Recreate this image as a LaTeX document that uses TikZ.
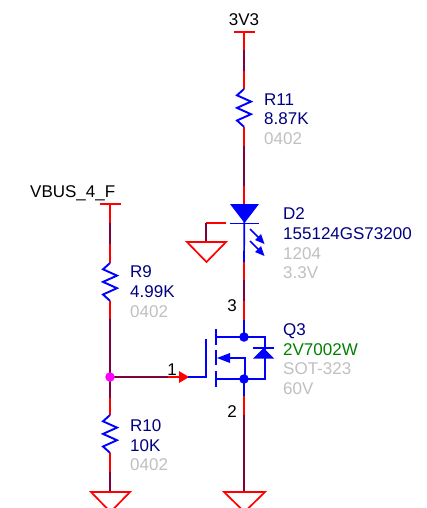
\documentclass[tikz,border=0pt]{standalone}
\usepackage{fontspec}
\setmainfont{Liberation Sans}
\definecolor{wirered}{RGB}{255,0,0}
\definecolor{wirepur}{RGB}{128,0,64}
\definecolor{symblue}{RGB}{0,0,255}
\definecolor{navytxt}{RGB}{0,0,128}
\definecolor{graytxt}{RGB}{192,192,192}
\definecolor{greentxt}{RGB}{0,128,0}
\definecolor{jmag}{RGB}{255,0,255}
\tikzset{
  redw/.style={draw=wirered,line width=1.7pt},
  purw/.style={draw=wirepur,line width=1.7pt},
  bluew/.style={draw=symblue,line width=1.7pt,line join=miter},
  lbl/.style={anchor=west,inner sep=0pt,font=\fontsize{17}{18}\selectfont},
  ctr/.style={inner sep=0pt,text=black,font=\fontsize{17}{18}\selectfont},
  dot/.style={circle,inner sep=0pt,minimum size=9.5pt},
  tickm/.style={fill=wirepur,inner sep=0pt,minimum width=2.8pt,minimum height=1.1pt},
}
\newcommand{\zig}[3]{% x, ytop, half width
  \draw[draw=symblue,line width=1.9pt,line join=miter] (#1,#2)
    -- ++(-#3,6.3) -- ++(2*#3,6.3) -- ++(-2*#3,6.3) -- ++(2*#3,6.3) -- ++(-2*#3,6.3) -- ++(#3,6.3);}
\begin{document}
\begin{tikzpicture}[x=1pt,y=-1pt]
\useasboundingbox[fill=white] (0,0) rectangle (426,508);
\clip (0,0) rectangle (426,508);
% named points
\coordinate (a0) at (110,204);
\coordinate (a1) at (110,224);
\coordinate (a2) at (110,243);
\coordinate (a3) at (110,263);
\coordinate (a4) at (110,301);
\coordinate (a5) at (110,320);
\coordinate (a6) at (110,397);
\coordinate (a7) at (110,415);
\coordinate (a8) at (110,453);
\coordinate (a9) at (110,473);
\coordinate (a10) at (110,492);
\coordinate (b0) at (244,32);
\coordinate (b1) at (244,51);
\coordinate (b2) at (244,70);
\coordinate (b3) at (244,89);
\coordinate (b4) at (244,127);
\coordinate (b5) at (244,147);
\coordinate (b5a) at (244,185);
\coordinate (b6) at (244,204);
\coordinate (b7) at (244,262);
\coordinate (b7a) at (244,281);
\coordinate (b7b) at (244,300);
\coordinate (b8) at (244,320);
\coordinate (b9) at (244,396);
\coordinate (b10) at (244,416);
\coordinate (b11) at (244,492);
\coordinate (jc) at (110,377);
\coordinate (dc) at (244,337);
\coordinate (sc) at (244,379);
% wires left
\draw[redw] (100,204) -- (121,204);
\draw[redw] (a0) -- (a1);
\draw[purw] (a1) -- (a2);
\draw[redw] (a2) -- (a3);
\draw[redw] (a4) -- (a5);
\draw[purw] (a5) -- (a6);
\draw[redw] (a6) -- (a7);
\draw[redw] (a8) -- (a9);
\draw[purw] (a9) -- (a10);
\draw[redw,line join=miter] (91,492) -- (130,492) -- (110.5,512) -- cycle;
% wires right
\draw[redw] (234,32) -- (255,32);
\draw[redw] (b0) -- (b1);
\draw[purw] (b1) -- (b2);
\draw[redw] (b2) -- (b3);
\draw[redw] (b4) -- (b5);
\draw[purw] (b5) -- (b5a);
\draw[redw] (b5a) -- (b6);
\draw[redw] (b7) -- (b7a);
\draw[purw] (b7a) -- (b7b);
\draw[redw] (b7b) -- (b8);
\draw[bluew] (b8) -- (dc);
\draw[bluew] (sc) -- (b9);
\draw[redw] (b9) -- (b10);
\draw[purw] (b10) -- (b11);
\draw[redw,line join=miter] (224,492) -- (265,492) -- (244.5,512) -- cycle;
\foreach \p in {a1,a2,a5,a6,a9,b1,b2,b5,b5a,b7a,b7b,b10}
  \node[tickm] at (\p) {};
% gate wire
\draw[purw] (jc) -- (168,377);
\draw[redw] (168,377) -- (181,377);
\fill[wirered] (179,371) -- (189,377) -- (179,383) -- cycle;
\draw[bluew] (188,377) -- (206,377);
% resistors
\zig{244}{89}{7}
\zig{110}{263}{7}
\zig{110}{415}{7}
% LED
\fill[symblue] (230,204) -- (259,204) -- (244.5,223) -- cycle;
\draw[bluew] (230,223.5) -- (259,223.5);
\draw[bluew] (244.5,204) -- (b7);
\draw[bluew] (250,229) -- (260,239);
\fill[symblue] (264.5,244) -- (255,240) -- (261,234) -- cycle;
\draw[bluew] (250,241) -- (260,251);
\fill[symblue] (264.5,256) -- (255,252) -- (261,246) -- cycle;
% LED ground
\draw[redw] (226,223) -- (206,223);
\draw[purw] (206,223) -- (206,242);
\draw[redw,line join=miter] (187,242) -- (226,242) -- (206.5,262) -- cycle;
% MOSFET
\draw[bluew] (206,339) -- (206,378);
\draw[bluew] (216,329) -- (216,345);
\draw[bluew] (216,350) -- (216,365);
\draw[bluew] (216,371) -- (216,387);
\draw[bluew] (216,337) -- (265,337) -- (265,379) -- (216,379);
\draw[bluew] (230,358) -- (245,358) -- (245,379);
\fill[symblue] (217,358) -- (230,353) -- (230,363) -- cycle;
\fill[symblue] (253,358.5) -- (274,358.5) -- (263.5,348) -- cycle;
\draw[bluew] (253,348) -- (274,348);
% junction dots
\node[dot,fill=jmag] (jn) at (jc) {};
\node[dot,fill=symblue] (dn) at (dc) {};
\node[dot,fill=symblue] (sn) at (sc) {};
% net names and pin labels
\node[ctr] (n3v) at (244,19.5) {3V3};
\node[ctr,anchor=west] (nvb) at (30,193) {VBUS\_4\_F};
\node[ctr] (p1) at (172,370) {1};
\node[ctr] (p3) at (232,306) {3};
\node[ctr] (p2) at (232,412) {2};
% part texts
\node[lbl,text=navytxt] (r11a) at (264,100) {R11};
\node[lbl,text=navytxt] (r11b) at (264,119) {8.87K};
\node[lbl,text=graytxt] (r11c) at (264,139) {0402};
\node[lbl,text=navytxt] (d2a) at (283,214) {D2};
\node[lbl,text=navytxt] (d2b) at (283,234) {155124GS73200};
\node[lbl,text=graytxt] (d2c) at (283,254) {1204};
\node[lbl,text=graytxt] (d2d) at (283,273) {3.3V};
\node[lbl,text=navytxt] (q3a) at (283,331) {Q3};
\node[lbl,text=greentxt] (q3b) at (283,350) {2V7002W};
\node[lbl,text=graytxt] (q3c) at (283,369) {SOT-323};
\node[lbl,text=graytxt] (q3d) at (283,389) {60V};
\node[lbl,text=navytxt] (r9a) at (130,272) {R9};
\node[lbl,text=navytxt] (r9b) at (130,292) {4.99K};
\node[lbl,text=graytxt] (r9c) at (130,312) {0402};
\node[lbl,text=navytxt] (r10a) at (130,426) {R10};
\node[lbl,text=navytxt] (r10b) at (130,446) {10K};
\node[lbl,text=graytxt] (r10c) at (130,465) {0402};
\end{tikzpicture}
\end{document}
